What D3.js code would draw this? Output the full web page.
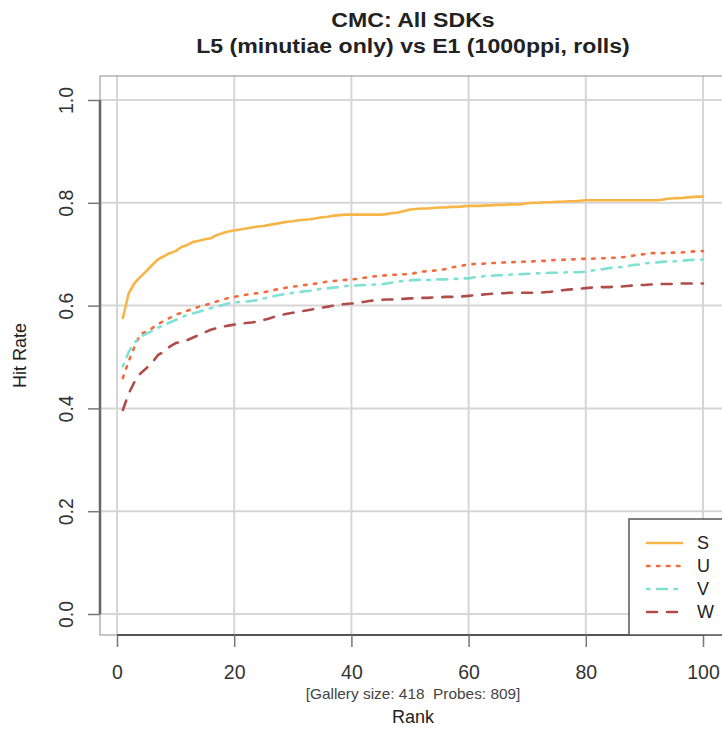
<!DOCTYPE html>
<html>
<head>
<meta charset="utf-8">
<script src="https://cdn.jsdelivr.net/npm/d3@7"></script>
<style>
  html, body { margin: 0; padding: 0; background: #fff; }
  svg { display: block; font-family: "Liberation Sans", Arial, Helvetica, sans-serif; }
</style>
</head>
<body>
<svg id="chart" width="722" height="732"></svg>
<script>
const ranks = d3.range(1, 101);
const seriesNames = ["S", "U", "V", "W"];
const seriesColors = ["#f7b548", "#f26a3d", "#7fe0d4", "#b04c49"];
const seriesDash = ["none", "2.5,7.5", "2.5,7.5,10,7.5", "10,10"];

const S = [0.576,0.624,0.644,0.656,0.667,0.679,0.690,0.696,0.702,0.706,0.714,0.718,0.724,0.726,0.729,0.731,0.737,0.741,0.744,0.746,
0.748,0.750,0.752,0.754,0.755,0.757,0.759,0.761,0.763,0.764,0.766,0.767,0.768,0.770,0.772,0.773,0.775,0.776,0.777,0.777,
0.777,0.777,0.777,0.777,0.777,0.778,0.780,0.781,0.784,0.787,0.788,0.789,0.789,0.790,0.791,0.791,0.792,0.792,0.793,0.794,
0.794,0.794,0.795,0.795,0.796,0.796,0.797,0.797,0.797,0.799,0.800,0.800,0.801,0.801,0.802,0.802,0.803,0.803,0.804,0.805,
0.805,0.805,0.805,0.805,0.805,0.805,0.805,0.805,0.805,0.805,0.805,0.805,0.806,0.808,0.809,0.809,0.810,0.811,0.812,0.812];

const U = [0.459,0.492,0.520,0.545,0.549,0.556,0.564,0.570,0.576,0.582,0.586,0.590,0.594,0.598,0.601,0.604,0.608,0.611,0.615,0.617,
0.619,0.621,0.623,0.624,0.626,0.628,0.631,0.633,0.635,0.637,0.638,0.640,0.641,0.643,0.645,0.647,0.648,0.649,0.650,0.651,
0.652,0.654,0.655,0.657,0.658,0.659,0.660,0.660,0.661,0.661,0.664,0.666,0.667,0.668,0.669,0.671,0.674,0.676,0.678,0.680,
0.681,0.681,0.682,0.683,0.683,0.684,0.684,0.685,0.685,0.686,0.686,0.687,0.687,0.688,0.689,0.689,0.690,0.690,0.691,0.691,
0.691,0.692,0.692,0.693,0.693,0.694,0.695,0.697,0.699,0.700,0.702,0.702,0.702,0.703,0.703,0.703,0.704,0.705,0.706,0.706];

const V = [0.482,0.510,0.528,0.540,0.545,0.551,0.557,0.562,0.567,0.572,0.577,0.582,0.585,0.588,0.592,0.595,0.598,0.601,0.604,0.606,
0.607,0.608,0.609,0.611,0.614,0.616,0.619,0.621,0.623,0.625,0.626,0.628,0.629,0.631,0.633,0.634,0.635,0.636,0.638,0.639,
0.639,0.640,0.640,0.641,0.641,0.643,0.645,0.647,0.648,0.649,0.650,0.650,0.650,0.650,0.651,0.651,0.652,0.652,0.653,0.653,
0.655,0.656,0.658,0.658,0.659,0.659,0.660,0.661,0.661,0.662,0.662,0.663,0.663,0.664,0.664,0.664,0.665,0.665,0.665,0.666,
0.668,0.670,0.671,0.673,0.674,0.675,0.677,0.679,0.680,0.682,0.683,0.684,0.685,0.686,0.686,0.687,0.688,0.689,0.689,0.690];

const W = [0.397,0.429,0.452,0.468,0.478,0.489,0.504,0.510,0.520,0.527,0.530,0.533,0.538,0.543,0.548,0.553,0.556,0.559,0.561,0.563,
0.565,0.566,0.567,0.569,0.572,0.575,0.579,0.582,0.584,0.586,0.588,0.590,0.592,0.594,0.596,0.598,0.600,0.602,0.603,0.604,
0.605,0.607,0.609,0.610,0.611,0.612,0.612,0.613,0.613,0.614,0.614,0.615,0.615,0.616,0.616,0.617,0.617,0.617,0.618,0.619,
0.620,0.621,0.622,0.623,0.624,0.624,0.625,0.625,0.625,0.625,0.625,0.625,0.626,0.627,0.629,0.630,0.631,0.632,0.633,0.634,
0.635,0.636,0.636,0.636,0.637,0.637,0.638,0.639,0.640,0.640,0.641,0.641,0.642,0.642,0.642,0.643,0.643,0.643,0.643,0.643];

const xTicks = [0, 20, 40, 60, 80, 100];
const yTicks = [0, 0.2, 0.4, 0.6, 0.8, 1.0];
const titleLines = ["CMC: All SDKs", "L5 (minutiae only) vs E1 (1000ppi, rolls)"];
const subLabel = "[Gallery size: 418  Probes: 809]";
const xLabel = "Rank";
const yLabel = "Hit Rate";

const svg = d3.select("#chart");
const x = d3.scaleLinear().domain([0, 100]).range([117, 703]);
const y = d3.scaleLinear().domain([0, 1]).range([614, 100]);
const xMin = x.invert(100), xMax = x.invert(726);
const yMin = y.invert(635), yMax = y.invert(76);
const FONT = "Liberation Sans, Arial, sans-serif";

svg.append("rect").attr("x", x(xMin)).attr("y", y(yMax))
  .attr("width", x(xMax) - x(xMin)).attr("height", y(yMin) - y(yMax))
  .attr("fill", "#fff");

// grid
const grid = svg.append("g").attr("stroke", "#d6d6d6").attr("stroke-width", 2);
xTicks.forEach(t => grid.append("line").attr("x1", x(t)).attr("x2", x(t)).attr("y1", y(yMax)).attr("y2", y(yMin)));
yTicks.forEach(t => grid.append("line").attr("x1", x(xMin)).attr("x2", x(xMax)).attr("y1", y(t)).attr("y2", y(t)));

// series
const data = [S, U, V, W];
const line = d3.line().x((d, i) => x(ranks[i])).y(d => y(d));
data.forEach((vals, k) => {
  svg.append("path").datum(vals)
    .attr("d", line)
    .attr("fill", "none")
    .attr("stroke", seriesColors[k])
    .attr("stroke-width", 2.6)
    .attr("stroke-linecap", "round")
    .attr("stroke-linejoin", "round")
    .attr("stroke-dasharray", seriesDash[k]);
});

// box
svg.append("rect").attr("x", x(xMin)).attr("y", y(yMax))
  .attr("width", x(xMax) - x(xMin)).attr("height", y(yMin) - y(yMax))
  .attr("fill", "none").attr("stroke", "#a0a0a0").attr("stroke-width", 1.2);

// axes
const xAxis = d3.axisBottom(x).tickValues(xTicks).tickSize(12).tickPadding(0).tickFormat(d3.format("d"));
const gx = svg.append("g").attr("transform", `translate(0,${y(yMin)})`).call(xAxis);
gx.select(".domain").attr("d", `M${x(0)},0H${x(100)}`).attr("stroke", "#555").attr("stroke-width", 2);
gx.selectAll(".tick line").attr("stroke", "#777").attr("stroke-width", 1.5);
gx.selectAll(".tick text").attr("font-size", 19.5).attr("fill", "#333")
  .attr("font-family", FONT).attr("dy", null).attr("y", 679 - y(yMin));

const yAxis = d3.axisLeft(y).tickValues(yTicks).tickSize(12).tickFormat(d3.format(".1f"));
const gy = svg.append("g").attr("transform", `translate(${x(xMin)},0)`).call(yAxis);
gy.select(".domain").attr("d", `M0,${y(0)}V${y(1)}`).attr("stroke", "#666").attr("stroke-width", 2.5);
gy.selectAll(".tick line").attr("stroke", "#777").attr("stroke-width", 1.5);
gy.selectAll(".tick text")
  .attr("font-size", 19.5).attr("fill", "#333")
  .attr("font-family", FONT)
  .attr("x", null).attr("dy", null)
  .attr("text-anchor", "middle")
  .attr("transform", `translate(${66 - x(xMin)},0) rotate(-90)`)
  .attr("dominant-baseline", "central");

// titles
const cx = (x(xMin) + x(xMax)) / 2;
svg.selectAll("text.title").data(titleLines).join("text")
  .attr("class", "title")
  .attr("transform", (d, i) => `translate(${cx},${27 + i * 26}) scale(1.1,1)`)
  .attr("text-anchor", "middle").attr("font-weight", "bold")
  .attr("font-size", 21).attr("fill", "#222").text(d => d);

svg.append("text").attr("transform", `translate(${cx},699) scale(1.1,1)`)
  .attr("text-anchor", "middle").style("white-space", "pre")
  .attr("font-size", 14).attr("fill", "#444").text(subLabel);
svg.append("text").attr("x", cx).attr("y", 723).attr("text-anchor", "middle")
  .attr("font-size", 18).attr("fill", "#222").text(xLabel);
svg.append("text").attr("transform", `translate(26,${(y(yMax) + y(yMin)) / 2}) rotate(-90)`)
  .attr("text-anchor", "middle").attr("font-size", 18).attr("fill", "#222").text(yLabel);

// legend
const lg = svg.append("g");
lg.append("rect").attr("x", 629).attr("y", 519).attr("width", 110).attr("height", y(yMin) - 519)
  .attr("fill", "#fff").attr("stroke", "#555").attr("stroke-width", 1.5);
seriesNames.forEach((n, k) => {
  const ly = 543 + k * 23;
  lg.append("line").attr("x1", 647).attr("x2", 682).attr("y1", ly).attr("y2", ly)
    .attr("stroke", seriesColors[k]).attr("stroke-width", 2.6)
    .attr("stroke-linecap", "round").attr("stroke-dasharray", seriesDash[k]);
  lg.append("text").attr("x", 697).attr("y", ly).attr("dominant-baseline", "central")
    .attr("font-size", 18).attr("fill", "#222").text(n);
});
</script>
</body>
</html>
